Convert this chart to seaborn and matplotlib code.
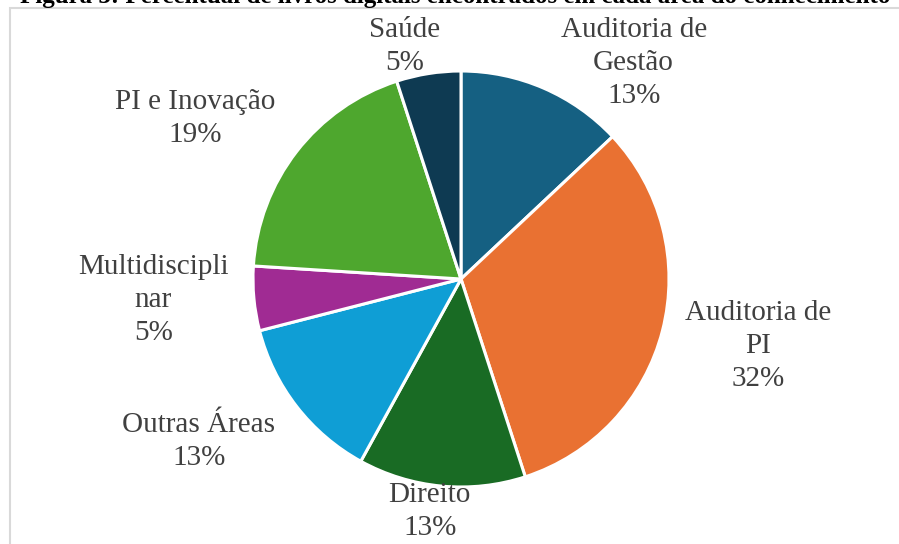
import numpy as np
import seaborn as sns
import matplotlib.pyplot as plt
from matplotlib.patches import Rectangle

sns.set_theme(style="white")
plt.rcParams['font.family'] = ['Liberation Serif', 'DejaVu Serif']

## Data: share of digital books per knowledge area (%)
areas = ["Auditoria de\nGestão", "Auditoria de\nPI", "Direito", "Outras Áreas",
         "Multidiscipli\nnar", "PI e Inovação", "Saúde"]
shares = [13, 32, 13, 13, 5, 19, 5]
colors = ["#156082", "#E97132", "#196B24", "#0F9ED5", "#A02B93", "#4EA72E", "#0E3A52"]

# label anchor points, in pie-radius units (Excel "best fit" placement)
label_xy = [(0.83, 1.04), (1.43, -0.32), (-0.15, -1.12), (-1.26, -0.78),
            (-1.48, -0.10), (-1.28, 0.77), (-0.27, 1.12)]

fig = plt.figure(figsize=(8.99, 5.44), dpi=100)
fig.patch.set_facecolor("white")

# chart frame (cut off right/bottom like the screenshot)
fig.add_artist(Rectangle((10 / 899, -0.05), 1.0, (544 - 8) / 544 + 0.05,
                         transform=fig.transFigure, fill=False,
                         edgecolor="#D9D9D9", linewidth=1.5))

ax = fig.add_axes([0, 0, 1, 1])
wedges, _ = ax.pie(shares, colors=colors, startangle=90, counterclock=False,
                   radius=1.0, wedgeprops=dict(edgecolor="white", linewidth=2.2))

# pie centre at (461, 279) px from top-left, radius 208 px
R = 208.0
cx, cy = 461.0, 544 - 279.0
ax.set_xlim(-cx / R, (899 - cx) / R)
ax.set_ylim(-cy / R, (544 - cy) / R)
ax.set_aspect("equal")
ax.axis("off")

for name, pct, (x, y) in zip(areas, shares, label_xy):
    ax.text(x, y, f"{name}\n{pct}%", ha="center", va="center",
            fontsize=21, color="#404040", linespacing=1.35)

# figure caption, mostly cropped off at the top
fig.text(20 / 899, 1 - 3 / 544, "Figura 3: Percentual de livros digitais encontrados em cada área do conhecimento",
         ha="left", va="baseline", fontsize=18, color="black", fontweight="bold")

fig.savefig("out.png", dpi=100)
